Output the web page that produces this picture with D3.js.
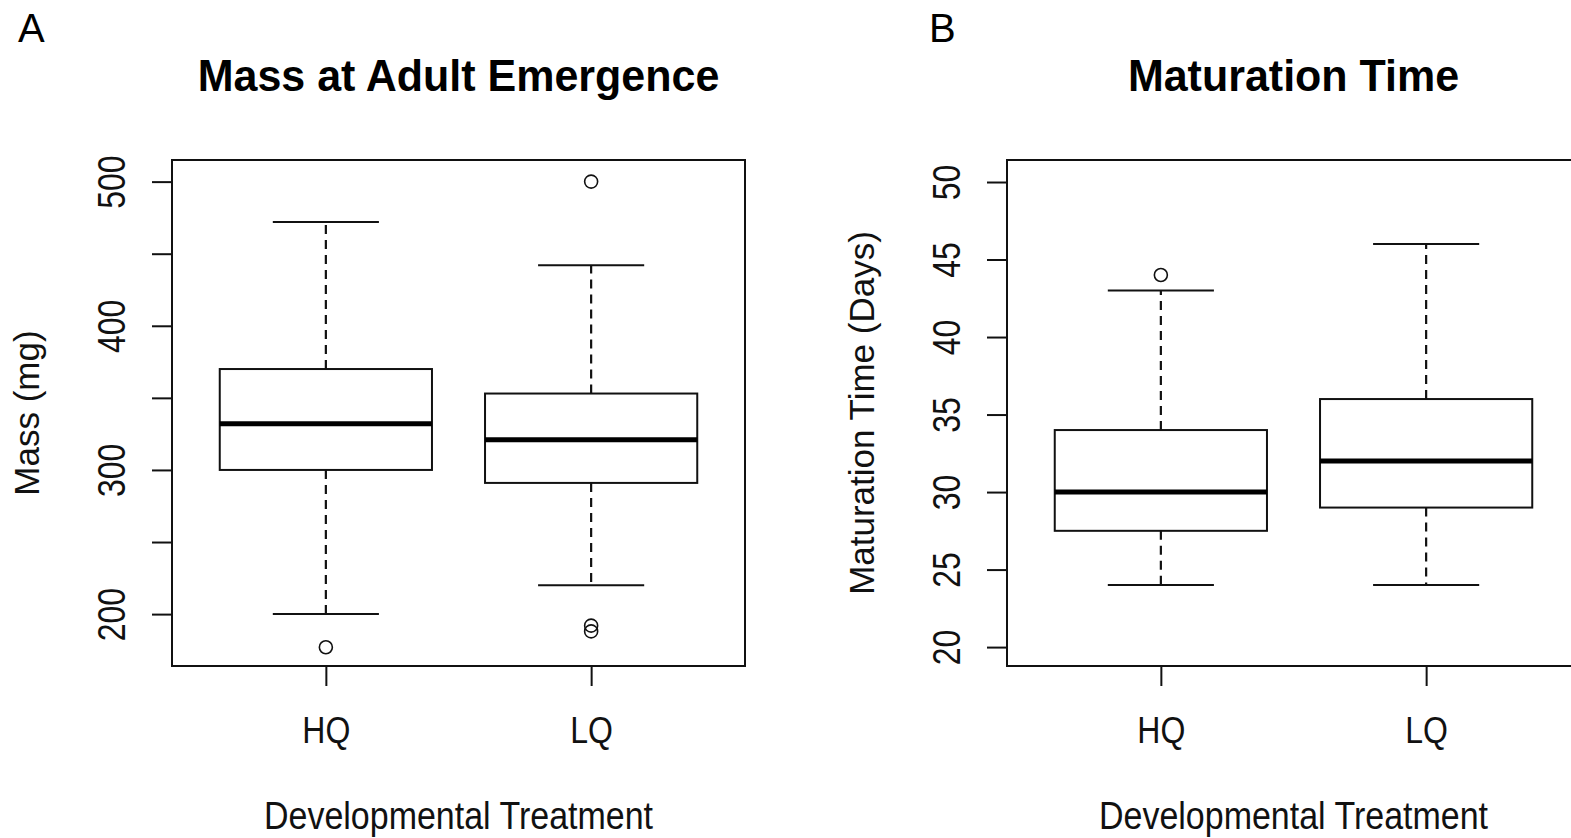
<!DOCTYPE html>
<html>
<head>
<meta charset="utf-8">
<script src="https://cdn.jsdelivr.net/npm/d3@7"></script>
<style>
	body { margin: 0; background: white; }
	svg { display: block; font-family: "Liberation Sans", Arial, sans-serif; }
</style>
</head>
<body>
<script>
"use strict";

// groups on the x axis
var categories = ["HQ", "LQ"];

// panel A: mass at adult emergence (mg)
var massLow = [200, 220];
var massQ1 = [300, 291];
var massMedian = [332, 321];
var massQ3 = [370, 353];
var massHigh = [472, 442];
var massOutliers = [[177], [500, 192, 188]];
var massTicks = [200, 250, 300, 350, 400, 450, 500];
var massTickLabels = [200, 300, 400, 500];

// panel B: maturation time (days)
var matLow = [24, 24];
var matQ1 = [27.5, 29];
var matMedian = [30, 32];
var matQ3 = [34, 36];
var matHigh = [43, 46];
var matOutliers = [[44], []];
var matTicks = [20, 25, 30, 35, 40, 45, 50];
var matTickLabels = [20, 25, 30, 35, 40, 45, 50];

var W = 1571, H = 838;

var svg = d3.select("body").append("svg")
	.attr("width", W)
	.attr("height", H);

// draws one R-style boxplot panel
function drawPanel(opt) {
	var top = 160, bottom = 666, width = 573;
	var left = opt.left;

	var x = d3.scaleLinear().domain([0.42, 2.58]).range([left, left + width]);
	var y = d3.scaleLinear().domain(opt.yDomain).range([bottom, top]);

	var g = svg.append("g");

	// panel letter
	svg.append("text")
		.attr("x", opt.letterX)
		.attr("y", 42)
		.style("font-family", "'Liberation Sans', Arial, sans-serif")
		.style("font-size", "40px")
		.text(opt.letter);

	// main title
	g.append("text")
		.attr("text-anchor", "middle")
		.attr("transform", "translate(" + (left + width / 2) + ",91) scale(1,1.05)")
		.style("font-size", "43px")
		.style("font-weight", "bold")
		.text(opt.title);

	// y axis
	var yAxis = d3.axisLeft(y)
		.tickValues(opt.ticks)
		.tickSize(20)
		.tickSizeOuter(0)
		.tickFormat(function(d) { return opt.tickLabels.indexOf(d) >= 0 ? d : ""; });

	g.append("g")
		.attr("transform", "translate(" + left + ",0)")
		.call(yAxis)
		.call(function(a) {
			a.select(".domain").remove();
			a.selectAll(".tick line").attr("stroke", "#111").attr("stroke-width", 2);
			a.selectAll(".tick text")
				.attr("x", null)
				.attr("dy", null)
				.attr("fill", "#111")
				.attr("text-anchor", "middle")
				.attr("transform", "translate(-47,0) rotate(-90) scale(1,1.2)")
				.style("font-size", "32px")
				.style("font-family", "'Liberation Sans', Arial, sans-serif");
		});

	// x axis
	var xAxis = d3.axisBottom(x)
		.tickValues([1, 2])
		.tickSize(20)
		.tickSizeOuter(0)
		.tickFormat(function(d) { return categories[d - 1]; });

	g.append("g")
		.attr("transform", "translate(0," + bottom + ")")
		.call(xAxis)
		.call(function(a) {
			a.select(".domain").remove();
			a.selectAll(".tick line").attr("stroke", "#111").attr("stroke-width", 2);
			a.selectAll(".tick text")
				.attr("y", null)
				.attr("dy", null)
				.attr("fill", "#111")
				.attr("transform", "translate(0,77) scale(1,1.17)")
				.style("font-size", "32px")
				.style("font-family", "'Liberation Sans', Arial, sans-serif");
		});

	// axis titles
	g.append("text")
		.attr("text-anchor", "middle")
		.attr("transform", "translate(" + (left + width / 2) + ",829) scale(1,1.12)")
		.style("font-size", "34px")
		.attr("fill", "#111")
		.text("Developmental Treatment");

	g.append("text")
		.attr("text-anchor", "middle")
		.attr("transform", "translate(" + (left - 133) + "," + ((top + bottom) / 2) + ") rotate(-90)")
		.style("font-size", "35px")
		.attr("fill", "#111")
		.text(opt.yTitle);

	// boxes
	var bw = 0.4, cw = 0.2;
	categories.forEach(function(c, i) {
		var cx = x(i + 1);
		var b = g.append("g").attr("stroke", "#111").attr("fill", "none");

		// whiskers (dashed)
		b.append("line")
			.attr("x1", cx).attr("x2", cx)
			.attr("y1", y(opt.q3[i])).attr("y2", y(opt.high[i]))
			.attr("stroke-width", 2.2).attr("stroke-dasharray", "9,6");
		b.append("line")
			.attr("x1", cx).attr("x2", cx)
			.attr("y1", y(opt.q1[i])).attr("y2", y(opt.low[i]))
			.attr("stroke-width", 2.2).attr("stroke-dasharray", "9,6");

		// staples
		[opt.high[i], opt.low[i]].forEach(function(v) {
			b.append("line")
				.attr("x1", x(i + 1 - cw)).attr("x2", x(i + 1 + cw))
				.attr("y1", y(v)).attr("y2", y(v))
				.attr("stroke-width", 2);
		});

		// box
		b.append("rect")
			.attr("x", x(i + 1 - bw))
			.attr("y", y(opt.q3[i]))
			.attr("width", x(i + 1 + bw) - x(i + 1 - bw))
			.attr("height", y(opt.q1[i]) - y(opt.q3[i]))
			.attr("fill", "white")
			.attr("stroke-width", 2);

		// median
		b.append("line")
			.attr("x1", x(i + 1 - bw)).attr("x2", x(i + 1 + bw))
			.attr("y1", y(opt.median[i])).attr("y2", y(opt.median[i]))
			.attr("stroke", "#000")
			.attr("stroke-width", 5);

		// outliers
		b.selectAll("circle.out")
			.data(opt.outliers[i])
			.enter().append("circle")
			.attr("class", "out")
			.attr("cx", cx)
			.attr("cy", function(d) { return y(d); })
			.attr("r", 6.5)
			.attr("stroke-width", 1.6);
	});

	// plot frame
	g.append("rect")
		.attr("x", left)
		.attr("y", top)
		.attr("width", width)
		.attr("height", bottom - top)
		.attr("fill", "none")
		.attr("stroke", "#111")
		.attr("stroke-width", 2);
}

drawPanel({
	left: 172, letter: "A", letterX: 18,
	title: "Mass at Adult Emergence",
	yTitle: "Mass (mg)",
	yDomain: [164, 515],
	ticks: massTicks, tickLabels: massTickLabels,
	low: massLow, q1: massQ1, median: massMedian, q3: massQ3, high: massHigh,
	outliers: massOutliers
});

drawPanel({
	left: 1007, letter: "B", letterX: 929,
	title: "Maturation Time",
	yTitle: "Maturation Time (Days)",
	yDomain: [18.78, 51.42],
	ticks: matTicks, tickLabels: matTickLabels,
	low: matLow, q1: matQ1, median: matMedian, q3: matQ3, high: matHigh,
	outliers: matOutliers
});
</script>
</body>
</html>
